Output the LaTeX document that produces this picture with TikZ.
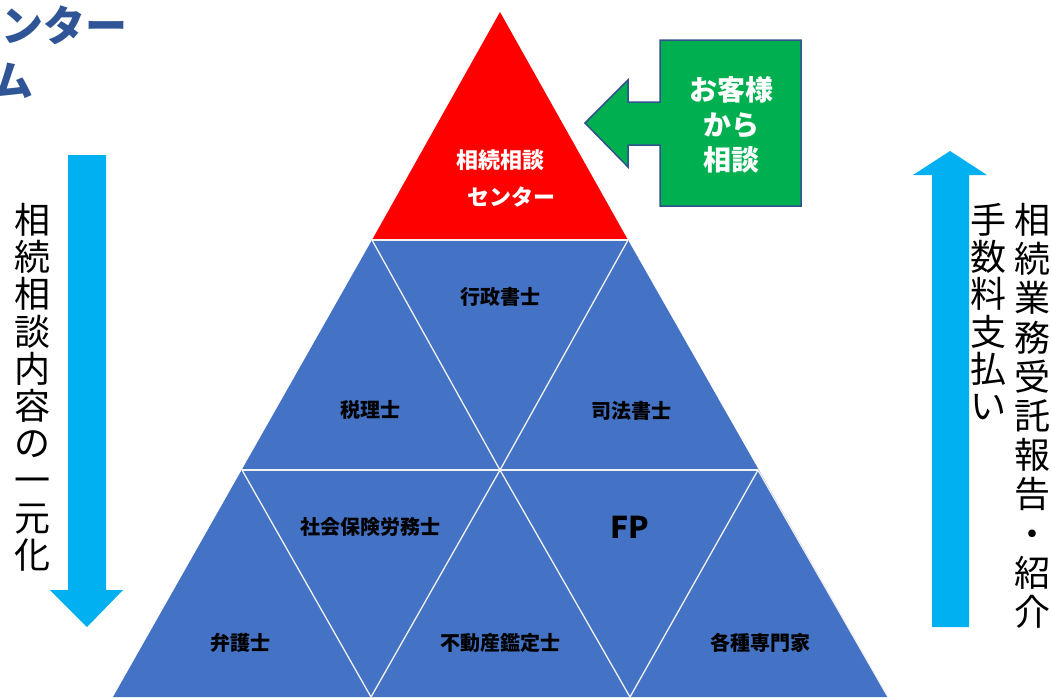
\documentclass[tikz,border=0pt]{standalone}
\usepackage{fontspec}
\setmainfont{Noto Sans CJK JP}
\definecolor{pyrblue}{HTML}{4472C4}
\definecolor{topred}{HTML}{FF0000}
\definecolor{askgreen}{HTML}{00B050}
\definecolor{askedge}{HTML}{2F528F}
\definecolor{flowcyan}{HTML}{00B0F0}
\definecolor{titleblue}{HTML}{2F5597}
\newcommand{\pxfont}[2]{\fontsize{#1}{#2}\selectfont}
\begin{document}
\begin{tikzpicture}[x=1pt, y=-1pt,
    seam/.style={white!90!gray, line width=1.3pt},
    cell/.style={font=\bfseries\pxfont{20}{24}, text=black, inner sep=0pt},
    toptext/.style={font=\bfseries\pxfont{22}{37}, text=white, inner sep=0pt},
    asktext/.style={font=\bfseries\pxfont{28}{35}, text=white, align=center, inner sep=0pt},
    vtext/.style={font=\pxfont{36}{37.2}, align=center, inner sep=0pt, anchor=north}]
        \useasboundingbox (0, 0) rectangle (1051, 697);
        \coordinate (apex) at (500, 12);
        \coordinate (a1) at (372, 240);
        \coordinate (a2) at (628, 240);
        \coordinate (b1) at (242, 470);
        \coordinate (b2) at (500, 470);
        \coordinate (b3) at (758, 470);
        \coordinate (c1) at (113, 697);
        \coordinate (c2) at (371, 697);
        \coordinate (c3) at (630, 697);
        \coordinate (c4) at (888, 697);
        \fill[topred] (apex) -- (a1) -- (a2) -- cycle;
        \fill[pyrblue] (a1) -- (a2) -- (c4) -- (c1) -- cycle;
        \draw[seam] (a1) -- (a2);
        \draw[seam] (b1) -- (b3);
        \draw[seam] (a1) -- (b2) -- (a2);
        \draw[seam] (b1) -- (c2) -- (b2) -- (c3) -- (b3) -- (c4);
        \node[toptext] (top1) at (500, 160) {相続相談};
        \node[toptext] (top2) at (511, 197) {センター};
        \node[cell] (gyosei) at (500, 297) {行政書士};
        \node[cell] (zeiri) at (370, 410) {税理士};
        \node[cell] (shiho) at (631, 411) {司法書士};
        \node[cell] (sharo) at (370, 527) {社会保険労務士};
        \node[cell, font=\bfseries\pxfont{30}{32}] (fp) at (630, 527) {FP};
        \node[cell] (bengo) at (240, 643) {弁護士};
        \node[cell] (fudosan) at (500, 643) {不動産鑑定士};
        \node[cell] (kakushu) at (760, 643) {各種専門家};
        \filldraw[fill=askgreen, draw=askedge, line width=1.5pt, line join=miter]
            (660, 40) -- (801, 40) -- (801, 206) -- (660, 206) -- (660, 145) -- (628, 145)
            -- (628, 167) -- (585, 123) -- (628, 80) -- (628, 102) -- (660, 102) -- cycle;
        \node[asktext] (ask) at (731, 125) {お客様\\から\\相談};
        \fill[flowcyan] (68, 155) -- (106, 155) -- (106, 590) -- (123, 590) -- (87, 627)
            -- (50, 590) -- (68, 590) -- cycle;
        \fill[flowcyan] (932, 627) -- (969, 627) -- (969, 175) -- (987, 175) -- (950, 151)
            -- (913, 175) -- (932, 175) -- cycle;
        \node[vtext] (left) at (32, 203) {相\\続\\相\\談\\内\\容\\の\\一\\元\\化};
        \node[vtext, font=\pxfont{36}{39.2}] (report) at (1032, 203) {相\\続\\業\\務\\受\\託\\報\\告\\・\\紹\\介};
        \node[vtext] (fee) at (988, 203) {手\\数\\料\\支\\払\\い};
        \node[font=\bfseries\pxfont{42}{42}, text=titleblue, anchor=east, inner sep=0pt] (title1) at (128, 25) {ンター};
        \node[font=\bfseries\pxfont{42}{42}, text=titleblue, anchor=east, inner sep=0pt] (title2) at (34, 81) {ム};
\end{tikzpicture}
\end{document}
